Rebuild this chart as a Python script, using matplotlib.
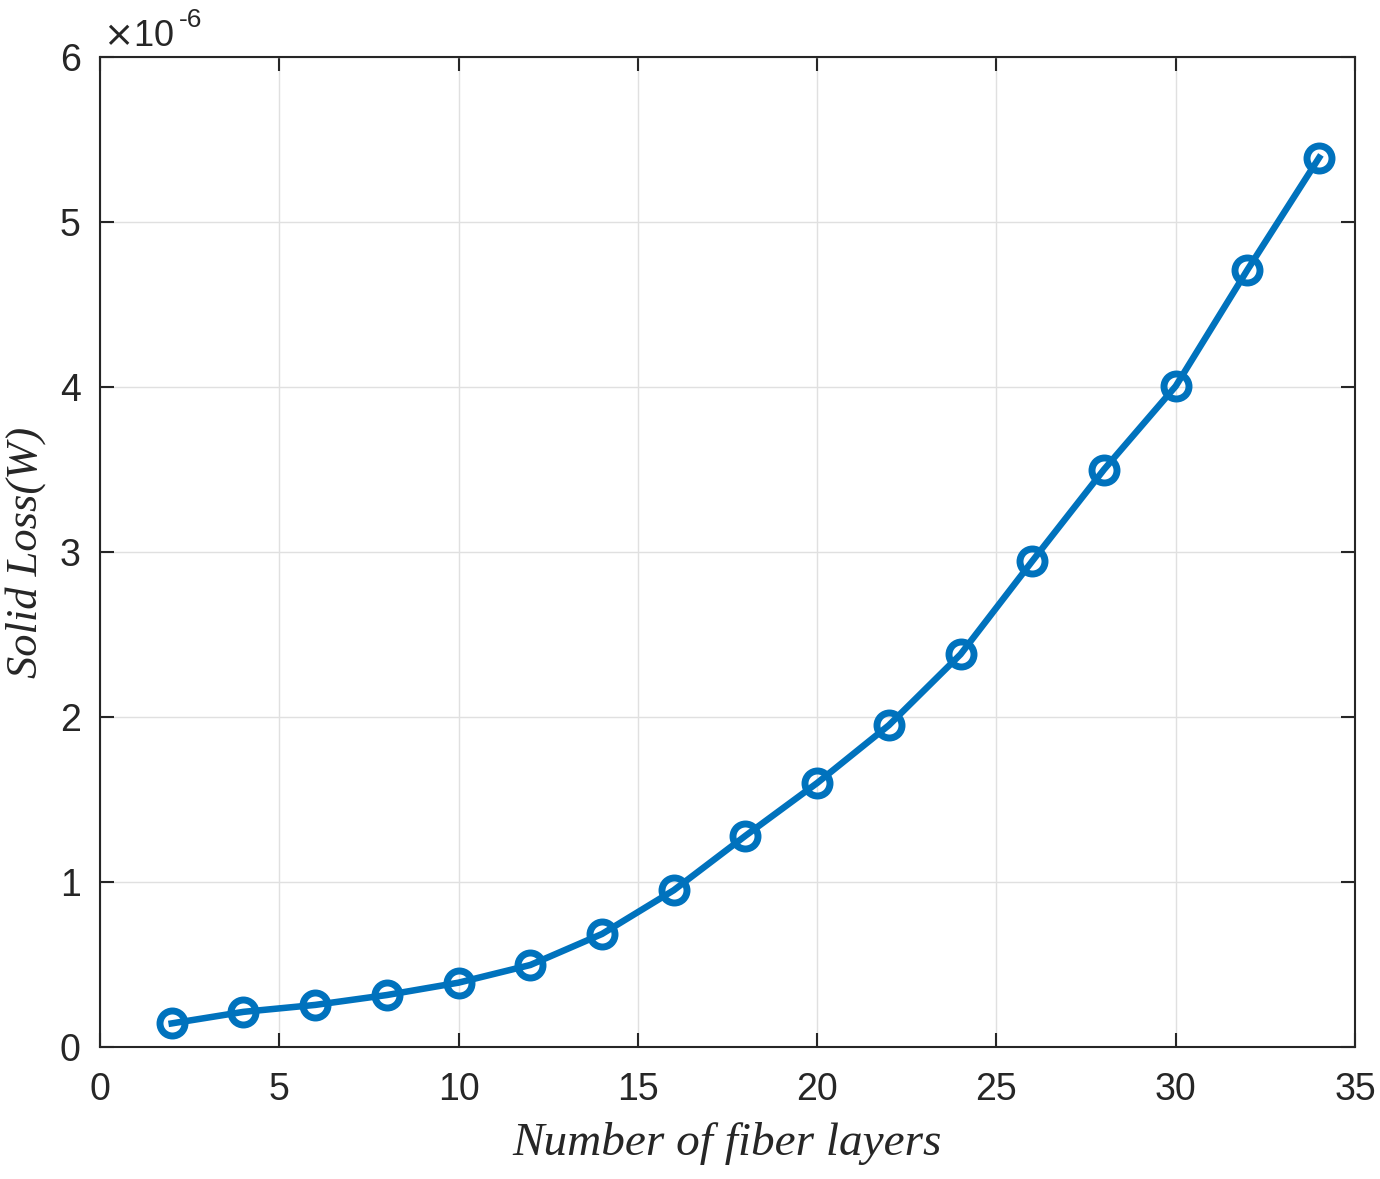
import matplotlib
matplotlib.use("Agg")
import matplotlib.pyplot as plt
from matplotlib.ticker import FuncFormatter

layers = [2, 4, 6, 8, 10, 12, 14, 16, 18, 20, 22, 24, 26, 28, 30, 32, 34]
solid_loss = [0.143e-6, 0.213e-6, 0.255e-6, 0.315e-6, 0.39e-6, 0.497e-6, 0.685e-6,
              0.95e-6, 1.28e-6, 1.60e-6, 1.95e-6, 2.38e-6, 2.945e-6, 3.50e-6,
              4.005e-6, 4.71e-6, 5.39e-6]
xticks = [0, 5, 10, 15, 20, 25, 30, 35]
yticks = [0, 1e-6, 2e-6, 3e-6, 4e-6, 5e-6, 6e-6]

fig = plt.figure(figsize=(13.8, 11.79), dpi=100)
ax = fig.add_axes([100/1380, 132/1179, 1255/1380, 990/1179])

color = "#0072BD"
ax.plot(layers, solid_loss, color=color, lw=4.7, marker="o", markersize=18,
        markerfacecolor="none", markeredgewidth=5, markeredgecolor=color)

ax.set_xlim(0, 35)
ax.set_ylim(0, 6e-6)
ax.set_xticks(xticks)
ax.set_yticks(yticks)
ax.yaxis.set_major_formatter(FuncFormatter(lambda v, p: f"{v*1e6:g}"))

ax.grid(True, color="#e0e0e0", lw=1.0)
ax.set_axisbelow(True)
ax.tick_params(direction="in", length=10, width=1.5, labelsize=27, color="#262626",
               labelcolor="#262626", top=True, right=True)
ax.tick_params(axis="x", pad=18)
ax.tick_params(axis="y", pad=14)
for lbl in ax.get_xticklabels() + ax.get_yticklabels():
    lbl.set_family("Liberation Sans")
for s in ax.spines.values():
    s.set_linewidth(1.5)
    s.set_color("#262626")

ax.set_xlabel("Number of fiber layers", family="Liberation Serif", style="italic",
              fontsize=34, color="#262626", labelpad=10)
ax.set_ylabel("Solid Loss(W)", family="Liberation Serif", style="italic",
              fontsize=32, color="#262626", labelpad=10)

fig.text(103/1380, 1133/1179, r"$\times$10", family="Liberation Sans", fontsize=26,
         color="#262626", va="baseline", ha="left")
fig.text(179/1380, 1152/1179, "-6", family="Liberation Sans", fontsize=19,
         color="#262626", va="baseline", ha="left")

fig.savefig("out.png", dpi=100)
